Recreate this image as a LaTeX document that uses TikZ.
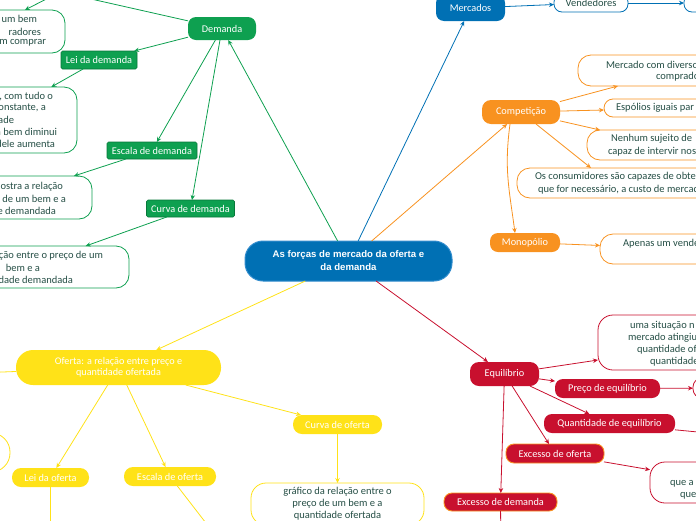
\documentclass[tikz,border=0pt]{standalone}
\usepackage{fontspec}
\setmainfont{Carlito}
\newfontfamily\mmtitlefont{Liberation Sans}
\usetikzlibrary{arrows.meta}
\definecolor{cgreen}{RGB}{14,160,80}
\definecolor{cgreendark}{RGB}{8,120,58}
\definecolor{cblue}{RGB}{0,112,180}
\definecolor{cbluelight}{RGB}{50,140,205}
\definecolor{corange}{RGB}{248,146,32}
\definecolor{cyellow}{RGB}{255,226,24}
\definecolor{cred}{RGB}{200,16,46}
\definecolor{ctext}{RGB}{38,79,70}
\newcommand{\mmlbl}{\fontsize{10.3}{12}\selectfont}
\newcommand{\mmbody}{\fontsize{10.5}{12}\selectfont}
\begin{document}
\begin{tikzpicture}[x=1pt,y=-1pt,
  every node/.style={inner sep=0pt,outer sep=0pt},
  conn/.style={line width=0.8pt,draw=#1,-{Stealth[length=5pt,width=4.5pt]}},
  topic/.style={fill=#1,text=white,rounded corners=8pt,font=\mmlbl,align=center},
  glabel/.style={fill=cgreen,draw=cgreendark,line width=0.6pt,text=white,rounded corners=1.5pt,font=\mmlbl},
  exbox/.style={fill=cred,draw=corange,line width=0.9pt,text=white,rounded corners=8pt,font=\mmlbl},
  wbox/.style={fill=white,draw=#1,line width=0.8pt,rounded corners=13pt},
  btext/.style={text=ctext,font=\mmbody,align=center}
]
\useasboundingbox (0,0) rectangle (696,520);
\clip (0,0) rectangle (696,520);

% ---------------- central
\node[fill=cblue,draw=cbluelight,line width=1pt,rounded corners=18pt,text=white,
  font=\mmtitlefont\bfseries\fontsize{9.6}{13}\selectfont,align=center,
  minimum width=207pt,minimum height=40pt] (main) at (348.5,261)
  {As forças de mercado da oferta e\\da demanda};

% ---------------- green (Demanda)
\node[topic=cgreen,minimum width=68pt,minimum height=23pt] (dem) at (222,28.5) {Demanda};
\node[glabel,minimum width=76pt,minimum height=18pt] (leid) at (99,60) {Lei da demanda};
\node[glabel,minimum width=90pt,minimum height=17pt] (escd) at (152,150.5) {Escala de demanda};
\node[glabel,minimum width=88pt,minimum height=17pt] (curd) at (190.5,208.5) {Curva de demanda};
\coordinate (offA) at (60,-8);

\node[wbox=cgreen,minimum width=164pt,minimum height=43pt] (t1) at (-17,31.5) {};
\node[btext,anchor=east] (t1a) at (37,19) {um bem};
\node[btext,anchor=east] (t1b) at (41,32) {radores};
\node[btext,anchor=east] (t1c) at (46,43) {m comprar};

\node[wbox=cgreen,minimum width=168pt,minimum height=66pt] (l1) at (-7,120) {};
\node[btext,anchor=east] (l1a) at (53,97) {, com tudo o};
\node[btext,anchor=east] (l1b) at (46,108) {onstante, a};
\node[btext,anchor=east] (l1c) at (14,119.5) {ade};
\node[btext,anchor=east] (l1d) at (57,132) {a bem diminui};
\node[btext,anchor=east] (l1e) at (55,144) {dele aumenta};

\node[wbox=cgreen,minimum width=168pt,minimum height=43pt] (e1) at (8,197.5) {};
\node[btext,anchor=east] (e1a) at (63,187) {ostra a relação};
\node[btext,anchor=east] (e1b) at (66,199) {de um bem e a};
\node[btext,anchor=east] (e1c) at (56,211) {e demandada};

\node[wbox=cgreen,minimum width=204pt,minimum height=42pt] (c1) at (27,267) {};
\node[btext,anchor=east] (c1a) at (103,256) {ção entre o preço de um};
\node[btext,anchor=east] (c1b) at (40,268) {bem e a};
\node[btext,anchor=east] (c1c) at (73,280) {dade demandada};

\draw[conn=cgreen] (main) -- (dem);
\draw[conn=cgreen] (dem) -- (offA);
\draw[conn=cgreen] (offA) -- (t1);
\draw[conn=cgreen] (dem) -- (leid);
\draw[conn=cgreen] (dem) -- (escd);
\draw[conn=cgreen] (dem) -- (curd);
\draw[conn=cgreen] (leid) -- (l1);
\draw[conn=cgreen] (escd) -- (e1);
\draw[conn=cgreen] (curd) -- (c1);

% ---------------- blue (Mercados)
\node[topic=cblue,minimum width=69pt,minimum height=26pt] (merc) at (470.5,8) {Mercados};
\node[wbox=cblue,rounded corners=8pt,minimum width=74pt,minimum height=18pt,btext] (vend) at (591,3) {Vendedores};
\node[wbox=cblue,rounded corners=8pt,minimum width=112pt,minimum height=18pt] (vend2) at (740,3) {};
\draw[conn=cblue] (main) -- (merc);
\draw[conn=cblue] (merc) -- (vend);
\draw[conn=cblue] (vend) -- (vend2);

% ---------------- orange (Competição)
\node[topic=corange,rounded corners=9pt,minimum width=78pt,minimum height=24pt] (comp) at (521,112) {Competição};
\node[topic=corange,minimum width=70pt,minimum height=19pt] (mono) at (525,242.5) {Monopólio};

\node[wbox=corange,minimum width=202pt,minimum height=31pt] (mdiv) at (679,70.5) {};
\node[btext,anchor=west] (mdiva) at (606,65) {Mercado com diversos};
\node[btext,anchor=west] (mdivb) at (656,77) {comprado};

\node[wbox=corange,rounded corners=9pt,minimum width=186pt,minimum height=18pt] (esp) at (697,108) {};
\node[btext,anchor=west] (espa) at (616,108) {Espólios iguais par};

\node[wbox=corange,minimum width=173pt,minimum height=30pt] (nenh) at (673.5,145) {};
\node[btext,anchor=west] (nenha) at (611,139) {Nenhum sujeito de};
\node[btext,anchor=west] (nenhb) at (608,152) {capaz de intervir nos};

\node[wbox=corange,minimum width=263pt,minimum height=30pt] (cons) at (648.5,183) {};
\node[btext,anchor=west] (consa) at (535,177) {Os consumidores são capazes de obte};
\node[btext,anchor=west] (consb) at (538,190) {que for necessário, a custo de mercad};

\node[wbox=corange,minimum width=180pt,minimum height=30pt] (apen) at (690,249) {};
\node[btext,anchor=west] (apena) at (623,244) {Apenas um vende};

\draw[conn=corange] (main) -- (comp);
\draw[conn=corange] (comp) -- ([xshift=40pt]mdiv.south west);
\draw[conn=corange] (comp) -- ([yshift=-2pt]esp.west);
\draw[conn=corange] (comp) -- ([xshift=13pt]nenh.north west);
\draw[conn=corange] (comp) -- ([xshift=74pt]cons.north west);
\draw[conn=corange] ([xshift=-11pt]comp.south) .. controls +(-6,45) and +(-6,-45) .. ([xshift=-10pt]mono.north);
\draw[conn=corange] (mono) -- (apen);

% ---------------- red (Equilíbrio)
\node[topic=cred,rounded corners=9pt,minimum width=69pt,minimum height=24pt] (equi) at (504.5,374) {Equilíbrio};
\node[topic=cred,minimum width=105pt,minimum height=19pt] (preco) at (607.5,388.5) {Preço de equilíbrio};
\node[topic=cred,minimum width=131pt,minimum height=19pt] (quant) at (609.5,423.5) {Quantidade de equilíbrio};
\node[exbox,minimum width=98pt,minimum height=19pt] (exof) at (555,453.5) {Excesso de oferta};
\node[exbox,minimum width=113pt,minimum height=18pt] (exdm) at (500.5,502) {Excesso de demanda};

\node[wbox=cred,rounded corners=15pt,minimum width=202pt,minimum height=55pt] (sit) at (699,342.5) {};
\node[btext,anchor=west] (sita) at (630,326) {uma situação n};
\node[btext,anchor=west] (sitb) at (628,338) {mercado atingiu};
\node[btext,anchor=west] (sitc) at (637,350) {quantidade of};
\node[btext,anchor=west] (sitd) at (650,362) {quantidade};

\node[wbox=cred,rounded corners=9pt,minimum width=96pt,minimum height=20pt] (pt) at (741,388) {};
\coordinate (q2) at (760,438);

\node[wbox=cred,rounded corners=15pt,minimum width=150pt,minimum height=41pt] (quea) at (725,482.5) {};
\node[btext,anchor=west] (queaa) at (670,484) {que a};
\node[btext,anchor=west] (queab) at (680,496) {que};
\coordinate (exdm2) at (501,560);

\draw[conn=cred] (main) -- (equi);
\draw[conn=cred] (equi) -- ([yshift=10pt]sit.south west);
\draw[conn=cred] (equi) -- (preco);
\draw[conn=cred] (preco) -- (pt);
\draw[conn=cred] (equi) -- (quant);
\draw[conn=cred] (quant) -- (q2);
\draw[conn=cred] (equi) -- (exof);
\draw[conn=cred] (exof) -- (quea);
\draw[conn=cred] (equi) -- (exdm);
\draw[conn=cred] (exdm) -- (exdm2);

% ---------------- yellow (Oferta)
\node[topic=cyellow,rounded corners=17pt,minimum width=205pt,minimum height=35pt,
  font=\fontsize{10.2}{11.5}\selectfont] (ofer) at (118.5,367.5)
  {Oferta: a relação entre preço e\\quantidade ofertada};
\node[topic=cyellow,rounded corners=9pt,minimum width=77pt,minimum height=19pt] (leio) at (50.5,477.5) {Lei da oferta};
\node[topic=cyellow,rounded corners=9pt,minimum width=92pt,minimum height=19pt] (esco) at (170,476.5) {Escala de oferta};
\node[topic=cyellow,rounded corners=9pt,minimum width=89pt,minimum height=19pt] (curo) at (337.5,424.5) {Curva de oferta};
\node[wbox=cyellow,rounded corners=19pt,minimum width=140pt,minimum height=39pt] (yc) at (-60,452.5) {};
\node[wbox=cyellow,rounded corners=15pt,minimum width=173pt,minimum height=42pt,btext] (graf) at (337.5,504)
  {gráfico da relação entre o\\preço de um bem e a\\quantidade ofertada};
\coordinate (oferL) at (-100,376);
\coordinate (leio2) at (50.5,560);
\coordinate (esco2) at (250,580);

\draw[conn=cyellow] (main) -- (ofer);
\draw[conn=cyellow] (ofer) -- (oferL);
\draw[conn=cyellow] (ofer) -- (leio);
\draw[conn=cyellow] (ofer) -- (esco);
\draw[conn=cyellow] (ofer) -- (curo);
\draw[conn=cyellow] (curo) -- (graf);
\draw[conn=cyellow] (leio) -- (leio2);
\draw[conn=cyellow] (esco) -- (esco2);
\end{tikzpicture}
\end{document}
